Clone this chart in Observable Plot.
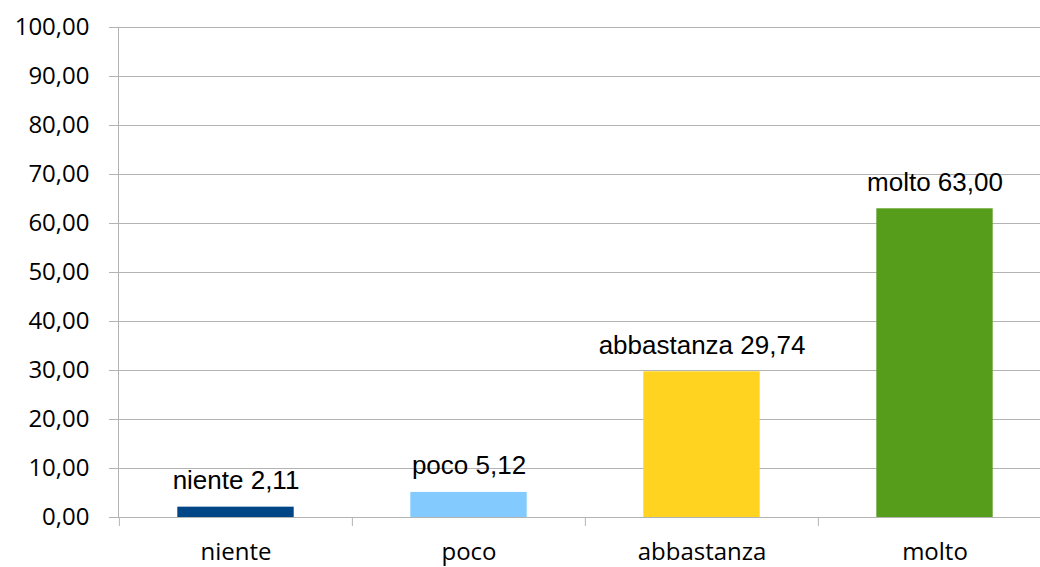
<!DOCTYPE html>
<html>
<head>
<meta charset="utf-8">
<script src="https://cdn.jsdelivr.net/npm/d3@7"></script>
<script src="https://cdn.jsdelivr.net/npm/@observablehq/plot@0.6"></script>
<style>
  html, body { margin: 0; padding: 0; background: #fff; overflow: hidden; }
  #chart { width: 1040px; height: 567px; }
</style>
</head>
<body>
<div id="chart"></div>
<script>
const categories = ["niente", "poco", "abbastanza", "molto"];
const values = [2.11, 5.12, 29.74, 63.00];
const colors = ["#004586", "#83CAFF", "#FFD320", "#579D1C"];
const yTicks = [0, 10, 20, 30, 40, 50, 60, 70, 80, 90, 100];

const fmt = v => d3.format(".2f")(v).replace(".", ",");
const data = categories.map((c, i) => ({ cat: c, value: values[i], color: colors[i] }));

const W = 1040, H = 567, mL = 118, mR = -11, mT = 27, mB = 50;
const bw = (W - mL - mR) / categories.length;
const gridColor = "#b3b3b3";

const chart = Plot.plot({
  width: W,
  height: H,
  marginLeft: mL,
  marginRight: mR,
  marginTop: mT,
  marginBottom: mB,
  style: { background: "#fff", color: "#000", overflow: "hidden" },
  x: { type: "band", domain: categories, padding: 0 },
  y: { domain: [0, 100] },
  marks: [
    Plot.gridY(yTicks, { stroke: gridColor, strokeOpacity: 1, strokeWidth: 1 }),
    Plot.axisY(yTicks, {
      tickSize: 9, tickPadding: 20, stroke: gridColor, strokeOpacity: 1,
      fill: "#000", fontSize: 24, fontFamily: "Open Sans", tickFormat: fmt, label: null
    }),
    Plot.frame({ anchor: "left", stroke: gridColor, strokeOpacity: 1 }),
    Plot.ruleX(categories, {
      x: d => d, dx: -bw / 2, y1: 0, y2: 0, insetBottom: -9,
      stroke: gridColor, strokeOpacity: 1
    }),
    Plot.barY(data, {
      x: "cat", y: "value", fill: "color",
      insetLeft: bw / 4, insetRight: bw / 4
    }),
    Plot.text(data, {
      x: "cat", y: "value", text: d => `${d.cat} ${fmt(d.value)}`,
      lineAnchor: "bottom", dy: -18, fontSize: 26, fontFamily: "Liberation Sans", fill: "#000"
    }),
    Plot.axisX({
      tickSize: 0, tickPadding: 25, fill: "#000", fontSize: 24,
      fontFamily: "Open Sans", label: null
    })
  ]
});
document.getElementById("chart").appendChild(chart);
</script>
</body>
</html>
